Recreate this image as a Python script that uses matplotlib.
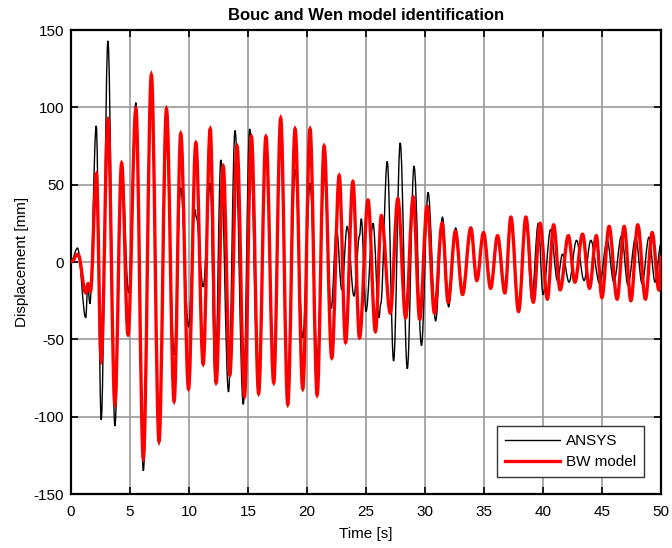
import matplotlib
matplotlib.use("Agg")
import matplotlib.pyplot as plt
from matplotlib.path import Path
from matplotlib.patches import PathPatch
from matplotlib.lines import Line2D

plt.rcParams['font.family'] = ['Liberation Sans', 'DejaVu Sans']
plt.rcParams['axes.unicode_minus'] = False

# turning points of the ANSYS response (time [s], displacement [mm])
ansys_t = [0.0, 0.55, 1.25, 1.42, 1.6, 2.14, 2.56, 3.13, 3.72, 4.29, 4.88,
           5.5, 6.13, 6.81, 7.46, 8.09, 8.74, 9.3, 9.96, 10.5, 10.62, 11.2,
           11.8, 12.22, 12.7, 13.35, 13.9, 14.6, 15.14, 15.9, 16.52, 17.18,
           17.77, 18.37, 18.99, 19.64, 20.26, 20.86, 21.45, 22.05, 22.5,
           22.95, 23.4, 23.98, 24.45, 24.6, 25.0, 25.6, 26.1, 26.25, 26.8,
           27.34, 27.9, 28.5, 29.07, 29.7, 30.26, 30.9, 31.48, 32.0, 32.6,
           33.18, 33.88, 34.39, 34.96, 35.56, 36.15, 36.77, 37.28, 37.93,
           38.55, 39.05, 39.6, 40.0, 40.65, 41.22, 41.65, 42.21, 42.84,
           43.48, 44.05, 44.8, 45.44, 46.0, 46.66, 47.2, 47.85, 48.4, 48.98,
           49.5, 50.0]
ansys_d = [0, 9, -36, -15, -27, 88, -102, 143, -106, 64, -20,
           103, -135, 118, -116, 78, -60, 48, -42, 34, 29, -16,
           51, -78, 66, -84, 85, -92, 86, -85, 81, -78,
           93, -92, 60, -49, 51, -62, 56, -30, 22,
           -18, 23, -22, 17, 28, -32, 25, -36, -27, 65,
           -64, 77, -69, 62, -54, 45, -38, 29, -29, 22,
           -21, 22, -12, 19, -17, 14, -20, 29, -32,
           29, -24, 25, -21, 21, -12, 5, -13, 14,
           -12, 14, -14, 14, -13, 17, -15, 16, -14, 16,
           -13, 12]

# turning points of the identified Bouc-Wen model
bw_t = [0.0, 0.6, 1.25, 1.45, 1.65, 2.15, 2.56, 3.13, 3.72, 4.29, 4.83,
        5.5, 6.13, 6.81, 7.46, 8.09, 8.74, 9.3, 9.96, 10.58, 11.2, 11.8,
        12.3, 12.9, 13.46, 14.07, 14.7, 15.29, 15.9, 16.52, 17.18, 17.77,
        18.37, 18.99, 19.64, 20.26, 20.86, 21.45, 22.1, 22.73, 23.27,
        23.89, 24.45, 25.17, 25.8, 26.3, 27.06, 27.7, 28.36, 29.0, 29.55,
        30.18, 30.8, 31.45, 31.96, 32.58, 33.18, 33.88, 34.39, 34.96,
        35.56, 36.15, 36.77, 37.28, 37.93, 38.55, 39.18, 39.75, 40.37,
        40.9, 41.45, 42.15, 42.7, 43.35, 43.94, 44.52, 44.99, 45.6, 46.28,
        46.88, 47.45, 48.03, 48.68, 49.25, 49.82, 50.0]
bw_d = [0, 5, -20, -14, -19, 57, -64, 92, -92, 64, -47,
        99, -127, 121, -116, 99, -90, 83, -82, 77, -66, 86,
        -78, 62, -73, 75, -87, 81, -85, 81, -78, 93,
        -92, 86, -82, 86, -86, 75, -62, 56, -52,
        52, -49, 40, -45, 30, -33, 41, -36, 42, -37,
        36, -33, 25, -26, 20, -21, 22, -12, 19,
        -17, 17, -20, 29, -32, 29, -26, 25, -24,
        24, -18, 17, -13, 18, -17, 17, -23, 23, -24,
        23, -25, 24, -24, 19, -18, 4]

xticks = list(range(0, 51, 5))
yticks = list(range(-150, 151, 50))


def smooth_path(ts, vs, k=0.36):
    # cubic segments with flat tangents at every turning point
    verts = [(ts[0], vs[0])]
    codes = [Path.MOVETO]
    for i in range(len(ts) - 1):
        dt = ts[i + 1] - ts[i]
        verts += [(ts[i] + k * dt, vs[i]),
                  (ts[i + 1] - k * dt, vs[i + 1]),
                  (ts[i + 1], vs[i + 1])]
        codes += [Path.CURVE4] * 3
    return Path(verts, codes)


fig = plt.figure(figsize=(6.72, 5.48), dpi=100)
ax = fig.add_axes([71 / 672, 54 / 548, 590 / 672, 464 / 548])

ax.add_patch(PathPatch(smooth_path(ansys_t, ansys_d), facecolor='none',
                       edgecolor='black', lw=1.0, zorder=3))
ax.add_patch(PathPatch(smooth_path(bw_t, bw_d), facecolor='none',
                       edgecolor='red', lw=2.4, zorder=4))

ax.set_xlim(0, 50)
ax.set_ylim(-150, 150)
ax.set_xticks(xticks)
ax.set_yticks(yticks)
ax.grid(True, color='#999999', lw=1.2)
ax.set_axisbelow(True)
ax.tick_params(direction='in', top=True, right=True, length=5, width=1.2,
               labelsize=11)
ax.tick_params(axis='x', pad=8)
ax.tick_params(axis='y', pad=5)
for sp in ax.spines.values():
    sp.set_linewidth(1.6)

ax.set_title('Bouc and Wen model identification', fontsize=12,
             fontweight='bold', pad=7)
ax.set_xlabel('Time [s]', fontsize=11, labelpad=6)
ax.set_ylabel('Displacement [mm]', fontsize=11, labelpad=3)

handles = [Line2D([], [], color='black', lw=1.0),
           Line2D([], [], color='red', lw=2.4)]
leg = ax.legend(handles, ['ANSYS', 'BW model'], loc='lower right',
                fontsize=11, fancybox=False, framealpha=1,
                edgecolor='#333333', handlelength=3.6, handletextpad=0.4,
                borderpad=0.5, labelspacing=0.45,
                bbox_to_anchor=(0.984, 0.021))
leg.get_frame().set_linewidth(1.0)

fig.savefig('out.png', dpi=100)
